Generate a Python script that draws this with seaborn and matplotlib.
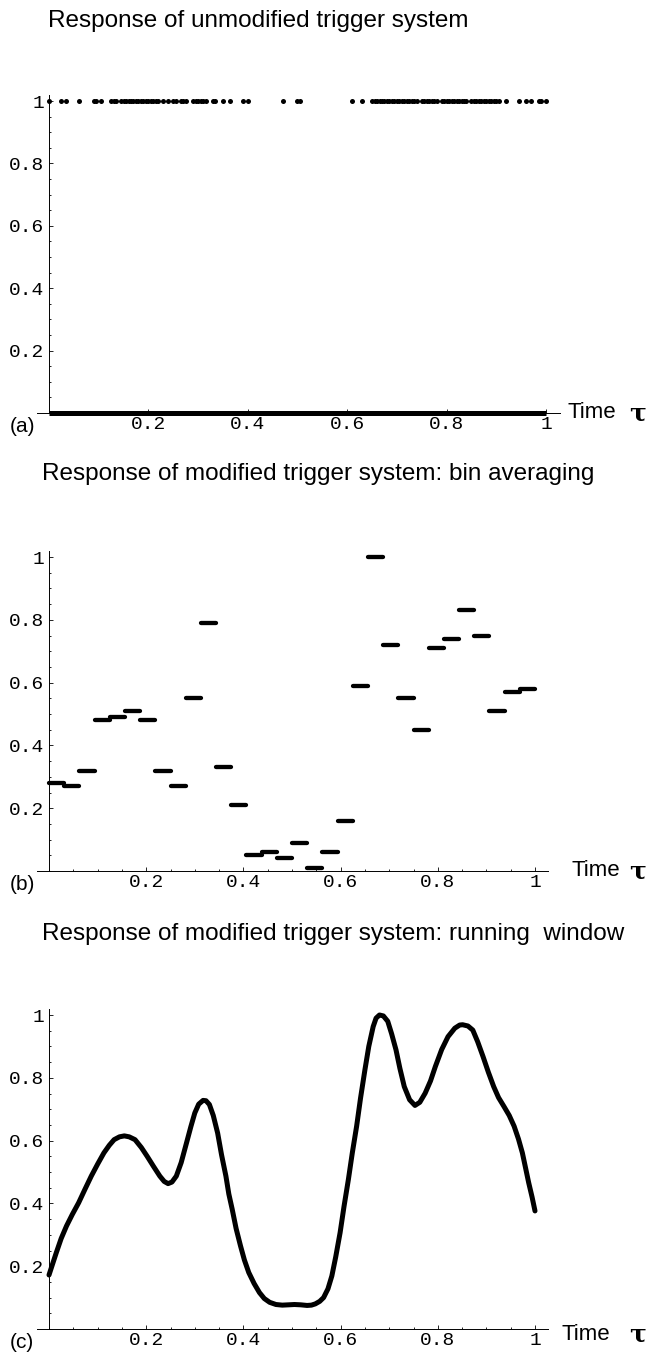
import matplotlib
matplotlib.use("Agg")
import matplotlib.pyplot as plt
import numpy as np
import pandas as pd
import seaborn as sns
from matplotlib.ticker import FixedLocator, MultipleLocator

# ---------------- data ----------------
# (a) times at which the unmodified trigger fires (value 1); all else is 0
trigger_times = [
    0.0, 0.025, 0.035, 0.06, 0.09, 0.095, 0.105,
    0.125, 0.13, 0.135, 0.145, 0.15, 0.155, 0.16, 0.165, 0.17, 0.175,
    0.18, 0.185, 0.19, 0.195, 0.2, 0.205, 0.21, 0.215, 0.22, 0.23, 0.24,
    0.25, 0.255, 0.265, 0.27, 0.275, 0.29, 0.295, 0.3, 0.305, 0.31, 0.315,
    0.33, 0.335, 0.35, 0.365, 0.39, 0.4, 0.47, 0.5, 0.505, 0.61, 0.63,
    0.65, 0.655, 0.66, 0.665, 0.67, 0.675, 0.68, 0.685, 0.69, 0.695, 0.7,
    0.705, 0.71, 0.715, 0.72, 0.725, 0.73, 0.735, 0.74, 0.75, 0.755, 0.76,
    0.765, 0.77, 0.775, 0.78, 0.79, 0.795, 0.8, 0.805, 0.81, 0.815, 0.82,
    0.825, 0.83, 0.835, 0.84, 0.85, 0.855, 0.86, 0.865, 0.87, 0.875, 0.88,
    0.885, 0.89, 0.895, 0.9, 0.905, 0.92, 0.945, 0.96, 0.97, 0.985, 0.99, 1.0,
]
zero_level_span = [0.0, 1.0]

# (b) bin averages, 32 equal bins on [0, 1]
n_bins = 32
bin_values = [0.28, 0.27, 0.32, 0.48, 0.49, 0.51, 0.48, 0.32, 0.27, 0.55,
              0.79, 0.33, 0.21, 0.05, 0.06, 0.04, 0.09, 0.01, 0.06, 0.16,
              0.59, 1.00, 0.72, 0.55, 0.45, 0.71, 0.74, 0.83, 0.75, 0.51,
              0.57, 0.58]

# (c) running window response
window_t = [0.0, 0.008, 0.015, 0.025, 0.036, 0.048, 0.061, 0.074, 0.087,
            0.100, 0.113, 0.124, 0.134, 0.145, 0.155, 0.165, 0.177, 0.190,
            0.202, 0.215, 0.228, 0.237, 0.245, 0.253, 0.262, 0.272, 0.283,
            0.292, 0.300, 0.308, 0.317, 0.323, 0.330, 0.338, 0.347, 0.355,
            0.364, 0.370, 0.377, 0.385, 0.394, 0.402, 0.411, 0.422, 0.433,
            0.443, 0.454, 0.467, 0.480, 0.493, 0.505, 0.518, 0.531, 0.540,
            0.548, 0.557, 0.565, 0.574, 0.582, 0.590, 0.599, 0.607, 0.616,
            0.624, 0.633, 0.641, 0.650, 0.658, 0.667, 0.673, 0.680, 0.688,
            0.697, 0.705, 0.714, 0.722, 0.731, 0.742, 0.753, 0.763, 0.774,
            0.785, 0.795, 0.808, 0.821, 0.835, 0.845, 0.851, 0.862, 0.872,
            0.882, 0.893, 0.904, 0.915, 0.925, 0.936, 0.947, 0.957, 0.966,
            0.974, 0.981, 0.987, 0.994, 1.0]
window_v = [0.172, 0.210, 0.243, 0.288, 0.328, 0.365, 0.402, 0.445, 0.487,
            0.525, 0.561, 0.585, 0.603, 0.612, 0.615, 0.612, 0.603, 0.578,
            0.550, 0.518, 0.487, 0.470, 0.463, 0.468, 0.487, 0.530, 0.593,
            0.645, 0.688, 0.716, 0.728, 0.727, 0.715, 0.680, 0.624, 0.555,
            0.487, 0.430, 0.381, 0.320, 0.265, 0.220, 0.180, 0.145, 0.116,
            0.097, 0.085, 0.078, 0.076, 0.077, 0.078, 0.077, 0.075, 0.076,
            0.080, 0.088, 0.100, 0.128, 0.169, 0.230, 0.307, 0.390, 0.476,
            0.560, 0.646, 0.735, 0.825, 0.900, 0.963, 0.990, 1.000, 0.997,
            0.980, 0.940, 0.889, 0.830, 0.772, 0.730, 0.712, 0.722, 0.751,
            0.790, 0.836, 0.890, 0.931, 0.958, 0.968, 0.969, 0.965, 0.952,
            0.915, 0.868, 0.818, 0.772, 0.737, 0.709, 0.680, 0.646, 0.605,
            0.561, 0.510, 0.466, 0.420, 0.376]

tick_values = [0.2, 0.4, 0.6, 0.8, 1.0]
tick_labels = ["0.2", "0.4", "0.6", "0.8", "1"]
titles = ["Response of unmodified trigger system",
          "Response of modified trigger system: bin averaging",
          "Response of modified trigger system: running  window"]
panel_tags = ["(a)", "(b)", "(c)"]
axis_word = "Time"
axis_symbol = "\u03c4"

# ---------------- figure ----------------
sns.set_style("ticks")
plt.rcParams["font.family"] = ["Liberation Sans", "DejaVu Sans"]
plt.rcParams["text.color"] = "black"

W, H = 651, 1353
fig = plt.figure(figsize=(W / 100, H / 100), dpi=100)

layout = [
    dict(x0=49, xs=497, xlim=(-0.024, 1.028), y0=413, ys=312),
    dict(x0=49, xs=486, xlim=(-0.025, 1.027), y0=871, ys=314),
    dict(x0=49, xs=486, xlim=(-0.025, 1.027), y0=1329, ys=314),
]
ylim = (0.0, 1.02)


def make_axes(p):
    left = p["x0"] + p["xlim"][0] * p["xs"]
    right = p["x0"] + p["xlim"][1] * p["xs"]
    bottom = p["y0"] - ylim[0] * p["ys"]
    top = p["y0"] - ylim[1] * p["ys"]
    ax = fig.add_axes([left / W, 1 - bottom / H, (right - left) / W, (bottom - top) / H])
    ax.set_xlim(*p["xlim"])
    ax.set_ylim(*ylim)
    ax.patch.set_alpha(0)
    for s in ["top", "right"]:
        ax.spines[s].set_visible(False)
    ax.spines["left"].set_position(("data", 0))
    ax.spines["left"].set_bounds(0, ylim[1])
    for s in ["left", "bottom"]:
        ax.spines[s].set_linewidth(0.7)
        ax.spines[s].set_color("black")
    ax.xaxis.set_major_locator(FixedLocator(tick_values))
    ax.yaxis.set_major_locator(FixedLocator(tick_values))
    ax.set_xticklabels(tick_labels)
    ax.set_yticklabels(tick_labels)
    ax.xaxis.set_minor_locator(MultipleLocator(0.05))
    ax.yaxis.set_minor_locator(MultipleLocator(0.05))
    ax.tick_params(which="both", direction="in", color="black", width=0.6,
                   labelfontfamily="Liberation Mono", labelsize=14, labelcolor="black")
    ax.tick_params(which="major", length=3.2)
    ax.tick_params(which="minor", length=1.6)
    ax.tick_params(axis="x", which="major", pad=2.5)
    ax.tick_params(axis="y", which="major", pad=3.5)
    return ax


axes = [make_axes(p) for p in layout]

# (a) trigger events
ax = axes[0]
sns.lineplot(x=zero_level_span, y=[0, 0], ax=ax, color="black", linewidth=3.6,
             solid_capstyle="butt", clip_on=False)
sns.scatterplot(x=trigger_times, y=[1] * len(trigger_times), ax=ax, color="black",
                s=13, linewidth=0, clip_on=False, zorder=3)

# (b) bin averages drawn as horizontal segments
ax = axes[1]
rows = []
for i, v in enumerate(bin_values):
    rows.append(dict(bin=i, t=i / n_bins, v=v))
    rows.append(dict(bin=i, t=(i + 1) / n_bins, v=v))
df_bins = pd.DataFrame(rows)
sns.lineplot(data=df_bins, x="t", y="v", units="bin", estimator=None, ax=ax,
             color="black", linewidth=3.1, solid_capstyle="round", clip_on=False)

# (c) running window
ax = axes[2]
sns.lineplot(x=window_t, y=window_v, ax=ax, sort=False, estimator=None,
             color="black", linewidth=3.6, solid_capstyle="round",
             solid_joinstyle="round", clip_on=False)

for ax in axes:
    ax.set_xlabel("")
    ax.set_ylabel("")

# ---------------- texts ----------------
title_pos = [(48, 27), (42, 480), (42, 940)]
for (x, y), t in zip(title_pos, titles):
    fig.text(x / W, 1 - y / H, t, fontsize=17.5, ha="left", va="baseline", color="black")

for p, tag in zip(layout, panel_tags):
    fig.text(10 / W, 1 - (p["y0"] + 13) / H, tag, fontsize=15, ha="left", va="center",
             color="black")

time_pos = [(567, 413), (571, 871), (562, 1334)]
for (x, y) in time_pos:
    fig.text(x / W, 1 - y / H, axis_word, fontsize=16, ha="left", va="center", color="black")
    fig.text(638 / W, 1 - y / H, axis_symbol, fontsize=18, ha="center", va="center",
             family=["DejaVu Serif"], fontweight="bold", color="black")

fig.savefig("out.png", dpi=100)
